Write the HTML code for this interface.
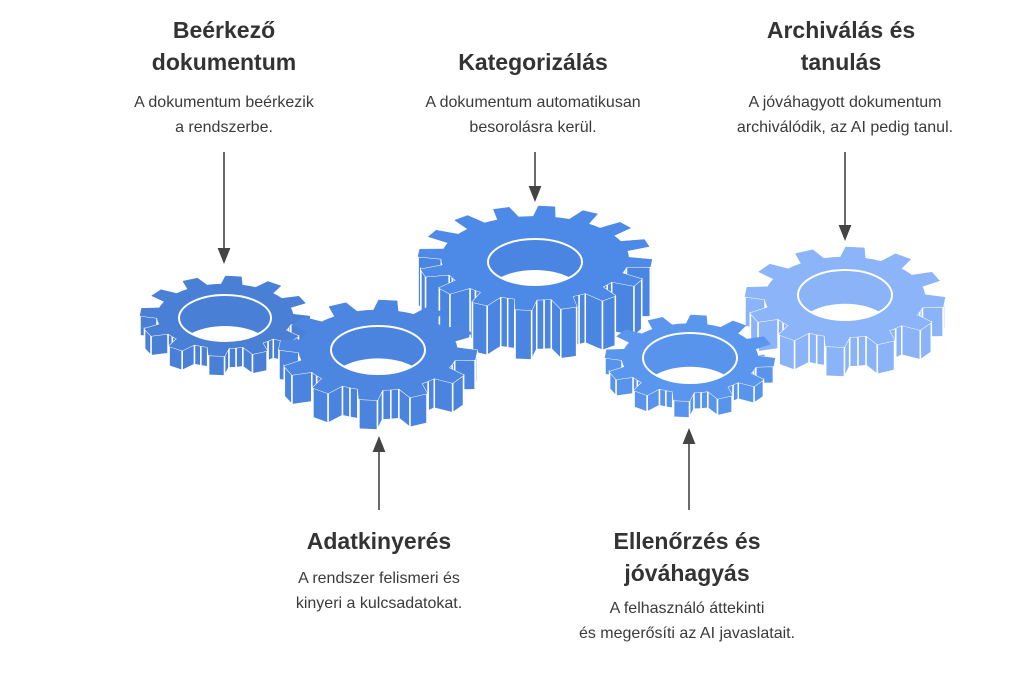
<!DOCTYPE html>
<html><head><meta charset="utf-8"><style>
html,body{margin:0;padding:0;background:#fff;width:1024px;height:675px;overflow:hidden}
.t{position:absolute;font-family:"Liberation Sans",sans-serif;color:#333;text-align:center;transform:translateX(-50%);white-space:nowrap}
.h{font-weight:bold;font-size:23px;line-height:32px}
.d{font-size:16px;line-height:25px;color:#3a3a3a}
</style></head><body>
<svg id="s" width="1024" height="675" style="position:absolute;left:0;top:0">
<defs><marker id="a" markerWidth="10" markerHeight="10" refX="5" refY="5" orient="auto"><path d="M0,1 L10,5 L0,9 z" fill="#444"/></marker></defs>
<g stroke="#444" stroke-width="1.6" fill="none">
<line x1="224" y1="152" x2="224" y2="256" marker-end="url(#a)"/>
<line x1="535" y1="152" x2="535" y2="194" marker-end="url(#a)"/>
<line x1="845" y1="152" x2="845" y2="233" marker-end="url(#a)"/>
<line x1="379" y1="510" x2="379" y2="444" marker-end="url(#a)"/>
<line x1="689" y1="510" x2="689" y2="436" marker-end="url(#a)"/>
</g>
<g id="g"></g>
</svg>
<div class="t h" style="left:224px;top:14px">Beérkező<br>dokumentum</div>
<div class="t d" style="left:224px;top:90px">A dokumentum beérkezik<br>a rendszerbe.</div>
<div class="t h" style="left:533px;top:46px">Kategorizálás</div>
<div class="t d" style="left:533px;top:90px">A dokumentum automatikusan<br>besorolásra kerül.</div>
<div class="t h" style="left:841px;top:14px">Archiválás és<br>tanulás</div>
<div class="t d" style="left:845px;top:90px">A jóváhagyott dokumentum<br>archiválódik, az AI pedig tanul.</div>
<div class="t h" style="left:379px;top:525px">Adatkinyerés</div>
<div class="t d" style="left:379px;top:566px">A rendszer felismeri és<br>kinyeri a kulcsadatokat.</div>
<div class="t h" style="left:687px;top:525px">Ellenőrzés és<br>jóváhagyás</div>
<div class="t d" style="left:687px;top:596px">A felhasználó áttekinti<br>és megerősíti az AI javaslatait.</div>
<script>
var G=document.getElementById('g'),NS='http://www.w3.org/2000/svg',cid=0;
function el(t,a,p){var e=document.createElementNS(NS,t);for(var k in a)e.setAttribute(k,a[k]);(p||G).appendChild(e);return e}
function gear(cx,cy,rx,ry,th,n,top,side,hx,hy,hcy){
 var pts=[],p=2*Math.PI/n;
 for(var i=0;i<n;i++){var a=i*p+0.1;
  [[-0.5,0.8],[-0.3,0.8],[-0.18,1],[0.18,1],[0.3,0.8]].forEach(function(q){var b=a+q[0]*p;pts.push([cx+rx*q[1]*Math.cos(b),cy+ry*q[1]*Math.sin(b)])});}
 var g=el('g',{});
 var s=function(P,dy){return P.map(function(q){return q[0].toFixed(1)+','+(q[1]+dy).toFixed(1)}).join(' ')};
 el('polygon',{points:s(pts,th),fill:side,stroke:'#fff','stroke-width':1.5},g);
 var quads=[];
 for(var i=0;i<pts.length;i++){var A=pts[i],B=pts[(i+1)%pts.length];
  if((A[1]+B[1])/2<cy-ry*0.1)continue;quads.push([A,B]);}
 quads.sort(function(u,v){return (u[0][1]+u[1][1])-(v[0][1]+v[1][1])});
 quads.forEach(function(q){var A=q[0],B=q[1];
  el('polygon',{points:s([A,B],0)+' '+s([B,A],th),fill:side,stroke:'#fff','stroke-width':1.5},g)});
 el('polygon',{points:s(pts,0),fill:top,stroke:top,'stroke-width':0.5,'stroke-linejoin':'round'},g);
 cid++;var cp=el('clipPath',{id:'c'+cid},g);el('ellipse',{cx:cx,cy:hcy,rx:hx,ry:hy},cp);
 var sh=hy*1.35;
 el('ellipse',{cx:cx,cy:hcy,rx:hx,ry:hy,fill:side},g);
 el('ellipse',{cx:cx,cy:hcy+sh,rx:hx,ry:hy,fill:'#fff','clip-path':'url(#c'+cid+')'},g);
 el('ellipse',{cx:cx,cy:hcy,rx:hx,ry:hy,fill:'none',stroke:'#fff','stroke-width':2},g);
}
gear(535,258,117,52,50,16,'#4d89e6','#4a85e2',47,23,262);
gear(225,316,85,40,20,12,'#4a7fd6','#4a7fd6',46,23,318);
gear(378,350,99,50,30,12,'#4d86e0','#4b84de',47,24,350);
gear(845,297,100,50,30,12,'#8cb5f9','#8ab3f8',47,25,295);
gear(690,358,85,43,17,12,'#5b96ee','#5893ec',47,25,358);
</script>
</body></html>
